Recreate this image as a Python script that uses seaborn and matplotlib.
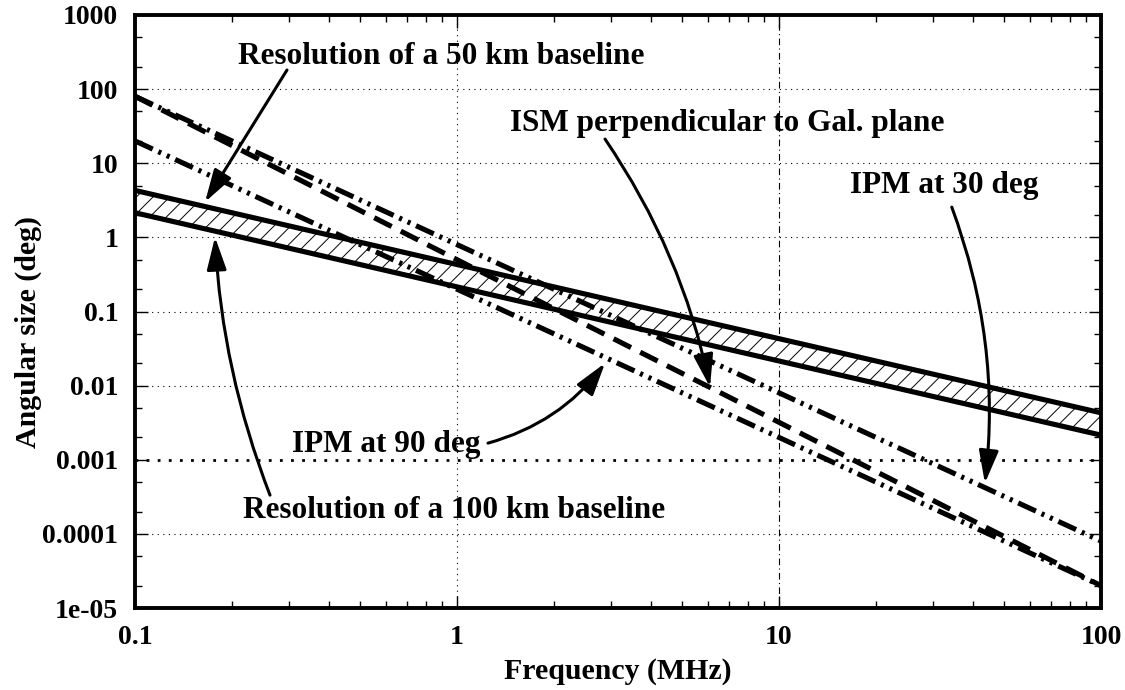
import matplotlib
matplotlib.use("Agg")
import matplotlib.pyplot as plt
import matplotlib.ticker as mticker
import seaborn as sns
import pandas as pd

# values (log-log, straight lines)
freq_mhz = [0.1, 1, 10, 100]
res_50km = [4.3, 0.43, 0.043, 0.0043]
res_100km = [2.15, 0.215, 0.0215, 0.00215]
ism_perp = [80, 0.5, 0.0032, 2.0e-5]
ipm_30deg = [80, 0.8, 0.008, 8.0e-5]
ipm_90deg = [20, 0.2, 0.002, 2.0e-5]

x_ticks = [0.1, 1, 10, 100]
x_tick_labels = ["0.1", "1", "10", "100"]
y_ticks = [1e-5, 1e-4, 1e-3, 1e-2, 1e-1, 1, 10, 100, 1000]
y_tick_labels = ["1e-05", "0.0001", "0.001", "0.01", "0.1", "1", "10", "100", "1000"]

curves = {
    "res50": res_50km,
    "res100": res_100km,
    "ism": ism_perp,
    "ipm30": ipm_30deg,
    "ipm90": ipm_90deg,
}
df = pd.concat(
    [pd.DataFrame({"freq": freq_mhz, "size": v, "curve": k}) for k, v in curves.items()],
    ignore_index=True,
)

sns.set_style("ticks", rc={"axes.edgecolor": "black", "text.color": "black",
                           "axes.labelcolor": "black", "xtick.color": "black",
                           "ytick.color": "black"})
plt.rcParams["font.family"] = ["Liberation Serif", "DejaVu Serif"]
plt.rcParams["font.weight"] = "bold"
plt.rcParams["axes.labelweight"] = "bold"
plt.rcParams["hatch.linewidth"] = 0.7

fig, ax = plt.subplots(figsize=(11.25, 6.9), dpi=100)
fig.subplots_adjust(left=135 / 1125, right=1101 / 1125, top=1 - 15 / 690, bottom=1 - 608 / 690)

ax.set_xscale("log")
ax.set_yscale("log")

# hatched band between the two baselines
ax.fill_between(freq_mhz, res_100km, res_50km, facecolor="white", edgecolor="black",
                hatch="//", linewidth=0, zorder=2)

dashdotdot = (3.8, 1.2, 0.6, 1.2, 0.6, 1.2)
sns.lineplot(
    data=df, x="freq", y="size", hue="curve", style="curve",
    palette={k: "black" for k in curves},
    dashes={"res50": "", "res100": "", "ism": (3.8, 2.0),
            "ipm30": dashdotdot, "ipm90": dashdotdot},
    linewidth=3.7, legend=False, ax=ax, zorder=3, sort=False,
)

ax.set_xlim(0.1, 100)
ax.set_ylim(1e-5, 1000)
ax.set_xticks(x_ticks, x_tick_labels)
ax.set_yticks(y_ticks, y_tick_labels)
ax.xaxis.set_minor_locator(mticker.LogLocator(base=10, subs=range(2, 10), numticks=20))
ax.yaxis.set_minor_locator(mticker.LogLocator(base=10, subs=[2, 5], numticks=20))
ax.xaxis.set_minor_formatter(mticker.NullFormatter())
ax.yaxis.set_minor_formatter(mticker.NullFormatter())

ax.tick_params(which="both", direction="in", top=True, right=True, labelsize=20, pad=12,
               colors="black")
ax.tick_params(which="major", length=9, width=1)
ax.tick_params(which="minor", length=5, width=1)
for lab in ax.get_xticklabels() + ax.get_yticklabels():
    lab.set_fontweight("bold")

ax.grid(which="major", linestyle=(0, (1, 4)), color="black", linewidth=0.8, zorder=0)
# the 0.001 row is drawn heavier and the 10 MHz column dash-dotted in the original
for gl, t in zip(ax.get_ygridlines(), y_ticks):
    if t == 1e-3:
        gl.set_linewidth(2.0)
        gl.set_linestyle((0, (1, 3)))
for gl, t in zip(ax.get_xgridlines(), x_ticks):
    if t == 10:
        gl.set_linestyle((0, (6, 3, 1, 3)))
for sp in ax.spines.values():
    sp.set_linewidth(2.8)
    sp.set_color("black")
    sp.set_zorder(5)

ax.set_xlabel("Frequency (MHz)", fontsize=21.5, fontweight="bold", labelpad=6)
ax.set_ylabel("Angular size (deg)", fontsize=21.5, fontweight="bold")
ax.yaxis.set_label_coords(-0.096, 0.465)

txt = dict(fontsize=22.5, fontweight="bold", transform=ax.transAxes, va="baseline", ha="left", zorder=6)
ax.text(0.1066, 0.9174, "Resolution of a 50 km baseline", **txt)
ax.text(0.1118, 0.1518, "Resolution of a 100 km baseline", **txt)
ax.text(0.1625, 0.2631, "IPM at 90 deg", **txt)
ax.text(0.3882, 0.8050, "ISM perpendicular to Gal. plane", **txt)
ax.text(0.7402, 0.6993, "IPM at 30 deg", **txt)

arrow = "-|>,head_length=2.0,head_width=0.6"
def arr(tip, start, rad):
    ax.annotate("", xy=tip, xytext=start, zorder=6,
                arrowprops=dict(arrowstyle=arrow, color="black", lw=2.2,
                                shrinkA=0, shrinkB=0,
                                connectionstyle=f"arc3,rad={rad}"))

arr((0.165, 3.0), (0.2965, 181), 0.0)
arr((0.1772, 1.01), (0.2626, 3.33e-4), -0.08)
arr((2.882, 0.0201), (1.248, 1.675e-3), 0.17)
arr((6.107, 9.55e-3), (2.882, 21.2), -0.1)
arr((43.6, 4.83e-4), (34.4, 2.56), -0.12)

fig.savefig("out.png", dpi=100)
